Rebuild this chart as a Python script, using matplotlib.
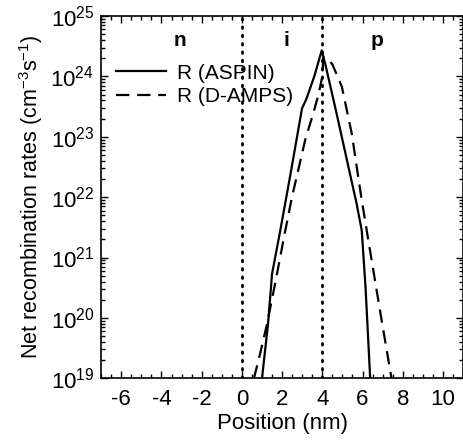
import matplotlib
matplotlib.use('Agg')
import matplotlib.pyplot as plt
import numpy as np
from matplotlib.ticker import MultipleLocator, NullFormatter

plt.rcParams['font.family'] = ['Liberation Sans', 'DejaVu Sans']
plt.rcParams['mathtext.fontset'] = 'custom'
plt.rcParams['mathtext.rm'] = 'Liberation Sans'
plt.rcParams['mathtext.default'] = 'regular'
plt.rcParams['axes.unicode_minus'] = False

# R (ASPIN), position in nm, log10 of rate
aspin_x = [1.0, 1.3, 1.5, 1.91, 2.4, 2.99, 3.2, 3.6, 3.97, 4.15, 4.7, 5.3, 5.7, 5.96, 6.15, 6.38]
aspin_log = [19.0, 19.9, 20.73, 21.45, 22.35, 23.47, 23.62, 24.0, 24.43, 24.2, 23.4, 22.5, 21.9, 21.45, 20.5, 19.0]

# R (D-AMPS)
damps_x = [0.6, 0.9, 1.25, 1.67, 2.16, 2.49, 3.15, 3.56, 3.81, 4.0, 4.05, 4.3, 4.5, 4.97, 5.46, 5.96, 6.45, 6.95, 7.44]
damps_log = [19.0, 19.4, 19.9, 20.6, 21.45, 22.0, 22.95, 23.4, 23.7, 24.0, 24.32, 24.27, 24.2, 23.83, 23.06, 21.95, 20.96, 19.96, 19.0]

regions = ['n', 'i', 'p']
region_x = [-3.1, 2.2, 6.7]
boundaries = [0, 4]
decades = list(range(19, 26))

fig = plt.figure(figsize=(4.64, 4.45), dpi=100)
ax = fig.add_axes([0.218, 0.150, 0.780, 0.814])

ax.plot(aspin_x, 10 ** np.array(aspin_log), '-', color='black', lw=1.6, label='R (ASPIN)')
ax.plot(damps_x, 10 ** np.array(damps_log), color='black', lw=1.6, dashes=(6, 3.5), label='R (D-AMPS)')
for b in boundaries:
    ax.axvline(b, color='black', lw=2.0, linestyle=(0, (0.6, 2.4)), dash_capstyle='round')
for r, rx in zip(regions, region_x):
    ax.text(rx, 10 ** 24.6, r, fontsize=15, fontweight='bold', ha='center', va='center')

ax.set_yscale('log')
ax.set_xlim(-7, 11)
ax.set_ylim(1e19, 1e25)
ax.set_xticks([-6, -4, -2, 0, 2, 4, 6, 8, 10])
ax.xaxis.set_minor_locator(MultipleLocator(0.5))
ax.set_yticks([10.0 ** d for d in decades], ['$10^{%d}$' % d for d in decades])
ax.set_yticks([m * 10.0 ** d for d in decades[:-1] for m in range(2, 10)], minor=True)
ax.yaxis.set_minor_formatter(NullFormatter())
ax.tick_params(which='both', direction='in', top=True, right=True, width=1.0)
ax.tick_params(which='major', length=5, labelsize=16)
ax.tick_params(axis='x', which='major', pad=8)
ax.tick_params(axis='y', which='major', pad=5)
ax.tick_params(which='minor', length=3)
for s in ax.spines.values():
    s.set_linewidth(1.2)

ax.set_xlabel('Position (nm)', fontsize=16, labelpad=2)
ax.set_ylabel('Net recombination rates (cm$^{-3}$s$^{-1}$)', fontsize=15.5, labelpad=4)

ax.legend(loc='upper left', bbox_to_anchor=(-0.01, 0.92), frameon=False, fontsize=15,
          handlelength=2.4, handletextpad=0.5, labelspacing=0.2)

fig.savefig('out.png', dpi=100)
